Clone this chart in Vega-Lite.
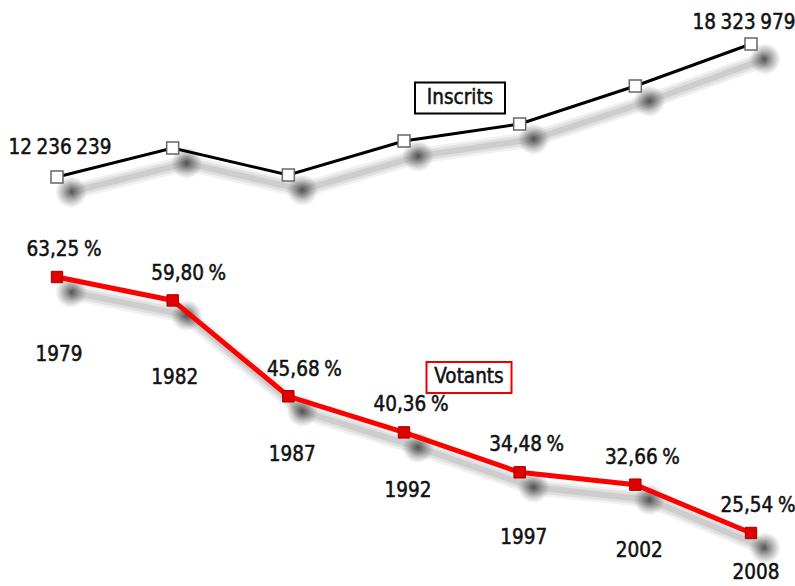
{
  "$schema": "https://vega.github.io/schema/vega-lite/v6.json",
  "width": 795,
  "height": 586,
  "autosize": {"type": "none"},
  "padding": 0,
  "background": "white",
  "config": {
    "view": {"stroke": null},
    "locale": {"number": {"decimal": ",", "thousands": "\u2005", "grouping": [3], "currency": ["", " €"]}},
    "text": {"font": "DejaVu Sans Condensed", "fontSize": 20.5, "fill": "#111", "stroke": "#111", "strokeWidth": 0.5}
  },
  "data": {
    "values": [
      {"annee": 1979, "inscrits": 12236239, "votants": 63.25},
      {"annee": 1982, "inscrits": 13560000, "votants": 59.80},
      {"annee": 1987, "inscrits": 12330000, "votants": 45.68},
      {"annee": 1992, "inscrits": 13880000, "votants": 40.36},
      {"annee": 1997, "inscrits": 14660000, "votants": 34.48},
      {"annee": 2002, "inscrits": 16400000, "votants": 32.66},
      {"annee": 2008, "inscrits": 18323979, "votants": 25.54}
    ]
  },
  "encoding": {
    "x": {"field": "annee", "type": "ordinal", "scale": {"type": "point", "range": [57, 751], "padding": 0}, "axis": null}
  },
  "layer": [
    {
      "encoding": {
        "y": {"field": "inscrits", "type": "quantitative", "scale": {"domain": [-6485000, 20338000], "zero": false, "nice": false}, "axis": null}
      },
      "layer": [
        {"mark": {"type": "line", "stroke": "#333", "strokeWidth": 16, "strokeOpacity": 0.07, "xOffset": 14, "yOffset": 15}},
        {"mark": {"type": "line", "stroke": "#333", "strokeWidth": 11, "strokeOpacity": 0.09, "xOffset": 14, "yOffset": 15}},
        {"mark": {"type": "line", "stroke": "#333", "strokeWidth": 6, "strokeOpacity": 0.11, "xOffset": 14, "yOffset": 15}},
        {"mark": {"type": "point", "shape": "circle", "filled": true, "size": 1000, "opacity": 1, "xOffset": 14, "yOffset": 15,
          "fill": {"gradient": "radial", "stops": [{"offset": 0, "color": "rgba(50,50,50,0.8)"}, {"offset": 0.45, "color": "rgba(70,70,70,0.45)"}, {"offset": 1, "color": "rgba(90,90,90,0)"}]}}},
        {"mark": {"type": "line", "stroke": "#000", "strokeWidth": 3}},
        {"mark": {"type": "point", "shape": "square", "filled": true, "fill": "white", "stroke": "#666", "strokeWidth": 1.5, "size": 144, "opacity": 1}},
        {
          "transform": [{"filter": "datum.annee == 1979"}],
          "mark": {"type": "text", "dy": -29, "dx": 3},
          "encoding": {"text": {"field": "inscrits", "type": "quantitative", "format": ",d"}}
        },
        {
          "transform": [{"filter": "datum.annee == 2008"}],
          "mark": {"type": "text", "dy": -21, "dx": -7},
          "encoding": {"text": {"field": "inscrits", "type": "quantitative", "format": ",d"}}
        },
        {
          "transform": [{"filter": "datum.annee == 1992"}],
          "mark": {"type": "point", "shape": "M-1,-0.344H1V0.344H-1Z", "filled": true, "fill": "white", "stroke": "#000", "strokeWidth": 2, "size": 8100, "opacity": 1, "xOffset": 56, "yOffset": -43}
        },
        {
          "transform": [{"filter": "datum.annee == 1992"}],
          "mark": {"type": "text", "text": "Inscrits", "xOffset": 56, "yOffset": -43, "baseline": "middle", "align": "center"}
        }
      ]
    },
    {
      "encoding": {
        "y": {"field": "votants", "type": "quantitative", "scale": {"domain": [17.733, 104.055], "zero": false, "nice": false}, "axis": null}
      },
      "layer": [
        {"mark": {"type": "line", "stroke": "#333", "strokeWidth": 16, "strokeOpacity": 0.07, "xOffset": 14, "yOffset": 15}},
        {"mark": {"type": "line", "stroke": "#333", "strokeWidth": 11, "strokeOpacity": 0.09, "xOffset": 14, "yOffset": 15}},
        {"mark": {"type": "line", "stroke": "#333", "strokeWidth": 6, "strokeOpacity": 0.11, "xOffset": 14, "yOffset": 15}},
        {"mark": {"type": "point", "shape": "circle", "filled": true, "size": 1000, "opacity": 1, "xOffset": 14, "yOffset": 15,
          "fill": {"gradient": "radial", "stops": [{"offset": 0, "color": "rgba(50,50,50,0.8)"}, {"offset": 0.45, "color": "rgba(70,70,70,0.45)"}, {"offset": 1, "color": "rgba(90,90,90,0)"}]}}},
        {"mark": {"type": "line", "stroke": "#ff0000", "strokeWidth": 5}},
        {"mark": {"type": "point", "shape": "square", "filled": true, "fill": "#e00000", "stroke": "#a00000", "strokeWidth": 1, "size": 130, "opacity": 1}},
        {
          "transform": [
            {"filter": "datum.annee != 1982 && datum.annee != 1987"},
            {"calculate": "format(datum.votants, '.2f') + '\u2005%'", "as": "etiquette"}
          ],
          "mark": {"type": "text", "dx": 7, "dy": -27},
          "encoding": {"text": {"field": "etiquette", "type": "nominal"}}
        },
        {
          "transform": [
            {"filter": "datum.annee == 1982 || datum.annee == 1987"},
            {"calculate": "format(datum.votants, '.2f') + '\u2005%'", "as": "etiquette"}
          ],
          "mark": {"type": "text", "dx": 16, "dy": -26},
          "encoding": {"text": {"field": "etiquette", "type": "nominal"}}
        },
        {
          "transform": [{"filter": "datum.annee <= 1982"}],
          "mark": {"type": "text", "dx": 2, "dy": 78},
          "encoding": {"text": {"field": "annee", "type": "ordinal"}}
        },
        {
          "transform": [{"filter": "datum.annee >= 1987 && datum.annee <= 1992"}],
          "mark": {"type": "text", "dx": 4, "dy": 59},
          "encoding": {"text": {"field": "annee", "type": "ordinal"}}
        },
        {
          "transform": [{"filter": "datum.annee >= 1997 && datum.annee <= 2002"}],
          "mark": {"type": "text", "dx": 4, "dy": 66},
          "encoding": {"text": {"field": "annee", "type": "ordinal"}}
        },
        {
          "transform": [{"filter": "datum.annee == 2008"}],
          "mark": {"type": "text", "dx": 5, "dy": 40},
          "encoding": {"text": {"field": "annee", "type": "ordinal"}}
        },
        {
          "transform": [{"filter": "datum.annee == 1992"}],
          "mark": {"type": "point", "shape": "M-1,-0.365H1V0.365H-1Z", "filled": true, "fill": "white", "stroke": "#ee0000", "strokeWidth": 2, "size": 7225, "opacity": 1, "xOffset": 65, "yOffset": -55}
        },
        {
          "transform": [{"filter": "datum.annee == 1992"}],
          "mark": {"type": "text", "text": "Votants", "xOffset": 65, "yOffset": -55, "baseline": "middle", "align": "center"}
        }
      ]
    }
  ],
  "resolve": {"scale": {"y": "independent"}}
}
